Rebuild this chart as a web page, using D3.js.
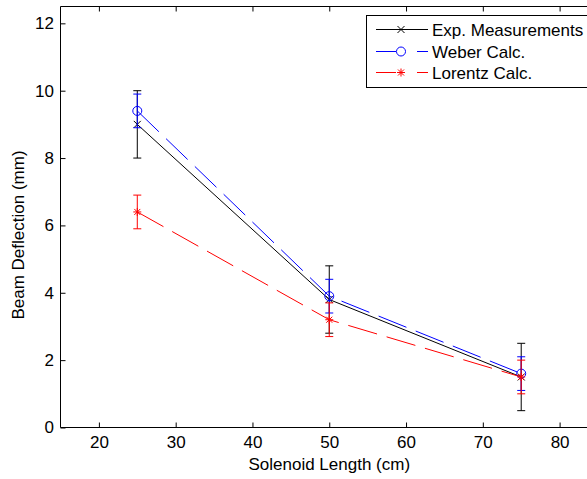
<!DOCTYPE html>
<html>
<head>
<meta charset="utf-8">
<script src="https://cdn.jsdelivr.net/npm/d3@7"></script>
<style>
body{margin:0;background:#fff;}
svg{display:block;font-family:"Liberation Sans",Arial,sans-serif;}
</style>
</head>
<body>
<svg id="chart" width="587" height="479"></svg>
<script>
const lengths = [25, 50, 75];
const expValues = [9.0, 3.8, 1.5];
const expErrors = [1.0, 1.0, 1.0];
const weberValues = [9.4, 3.9, 1.6];
const weberErrors = [0.5, 0.5, 0.5];
const lorentzValues = [6.4, 3.2, 1.5];
const lorentzErrors = [0.5, 0.5, 0.5];
const xTicks = [20, 30, 40, 50, 60, 70, 80];
const yTicks = [0, 2, 4, 6, 8, 10, 12];
const seriesNames = ["Exp. Measurements", "Weber Calc.", "Lorentz Calc."];

(function () {
const svg = d3.select("#chart");
const W = 587;
const FS = 17;
const pL = 60.5, pT = 6.5, pR = 598, pB = 427.5;
const x = d3.scaleLinear().domain([15, 85]).range([pL, pR]);
const y = d3.scaleLinear().domain([0, 12.5]).range([pB, pT]);

const series = [
  {name: seriesNames[0], vals: expValues, errs: expErrors, color: "#000000", dash: null, marker: "x"},
  {name: seriesNames[1], vals: weberValues, errs: weberErrors, color: "#0000ff", dash: "30,10", marker: "o"},
  {name: seriesNames[2], vals: lorentzValues, errs: lorentzErrors, color: "#ff0000", dash: "30,10", marker: "*"}
];

const g = svg.append("g");
g.append("line").attr("x1", pL).attr("x2", W).attr("y1", pT).attr("y2", pT).attr("stroke", "#000");
g.append("line").attr("x1", pL).attr("x2", pL).attr("y1", pT).attr("y2", pB).attr("stroke", "#000");

const xAxis = d3.axisBottom(x).tickValues(xTicks).tickSizeInner(-5).tickSizeOuter(0).tickPadding(8.5);
const xa = svg.append("g").attr("transform", `translate(0,${pB})`).call(xAxis);
xa.select(".domain").attr("d", `M${pL},0H${W}`).attr("stroke", "#000");
xa.selectAll("text").attr("font-size", FS).attr("fill", "#000").attr("font-family", "Liberation Sans, Arial, sans-serif");

const xTop = d3.axisTop(x).tickValues(xTicks).tickSizeInner(-5).tickSizeOuter(0).tickFormat("");
const xt = svg.append("g").attr("transform", `translate(0,${pT})`).call(xTop);
xt.select(".domain").remove();

const yAxis = d3.axisLeft(y).tickValues(yTicks).tickSizeInner(-5).tickSizeOuter(0).tickPadding(6.5);
const ya = svg.append("g").attr("transform", `translate(${pL},0)`).call(yAxis);
ya.select(".domain").remove();
ya.selectAll("text").attr("font-size", FS).attr("fill", "#000").attr("font-family", "Liberation Sans, Arial, sans-serif");

svg.append("text").attr("x", (pL + pR) / 2).attr("y", 470).attr("text-anchor", "middle")
  .attr("font-size", FS).text("Solenoid Length (cm)");
svg.append("text").attr("transform", `translate(24,235) rotate(-90)`).attr("text-anchor", "middle")
  .attr("font-size", FS).text("Beam Deflection (mm)");

function drawMarker(sel, type, cx, cy, color) {
  if (type === "x") {
    const s = 3.5;
    sel.append("path").attr("d", `M${cx - s},${cy - s}L${cx + s},${cy + s}M${cx - s},${cy + s}L${cx + s},${cy - s}`)
      .attr("stroke", color).attr("fill", "none");
  } else if (type === "o") {
    sel.append("circle").attr("cx", cx).attr("cy", cy).attr("r", 4.5).attr("stroke", color).attr("fill", "none");
  } else {
    const s = 4, d = 3;
    sel.append("path").attr("d", `M${cx - s},${cy}L${cx + s},${cy}M${cx},${cy - s}L${cx},${cy + s}M${cx - d},${cy - d}L${cx + d},${cy + d}M${cx - d},${cy + d}L${cx + d},${cy - d}`)
      .attr("stroke", color).attr("fill", "none");
  }
}

const plot = svg.append("g");
series.forEach(s => {
  const data = lengths.map((l, i) => ({x: l, v: s.vals[i], e: s.errs[i]}));
  const line = d3.line().x(d => x(d.x)).y(d => y(d.v));
  plot.append("path").datum(data).attr("d", line).attr("fill", "none").attr("stroke", s.color)
    .attr("stroke-width", 1).attr("stroke-dasharray", s.dash);
  data.forEach(d => {
    const cx = x(d.x);
    plot.append("path")
      .attr("d", `M${cx},${y(d.v - d.e)}V${y(d.v + d.e)}M${cx - 4},${y(d.v + d.e)}H${cx + 4}M${cx - 4},${y(d.v - d.e)}H${cx + 4}`)
      .attr("stroke", s.color).attr("fill", "none").attr("stroke-width", 1);
    drawMarker(plot, s.marker, cx, y(d.v), s.color);
  });
});

const lg = svg.append("g");
lg.append("rect").attr("x", 366.5).attr("y", 15.5).attr("width", 240).attr("height", 72)
  .attr("fill", "#fff").attr("stroke", "#000");
const rowsY = [29.5, 51.5, 72.5];
series.forEach((s, i) => {
  const yy = rowsY[i];
  lg.append("line").attr("x1", 376).attr("x2", 428).attr("y1", yy).attr("y2", yy)
    .attr("stroke", s.color).attr("stroke-dasharray", s.dash ? "20,21" : null);
  drawMarker(lg, s.marker, 401, yy, s.color);
  lg.append("text").attr("x", 432).attr("y", yy + 6).attr("font-size", FS).text(s.name);
});
})();
</script>
</body>
</html>
